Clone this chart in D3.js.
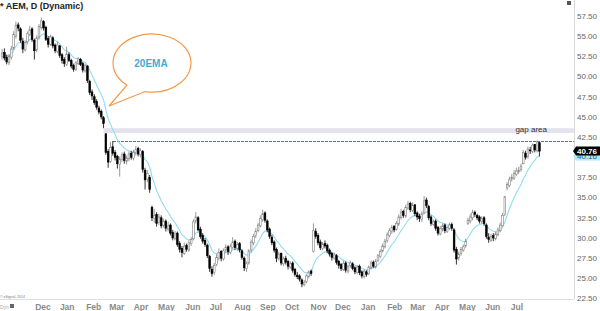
<!DOCTYPE html>
<html>
<head>
<meta charset="utf-8">
<script src="https://cdn.jsdelivr.net/npm/d3@7"></script>
<style>
  body { margin: 0; background: #fff; }
  svg { display: block; font-family: Arial, "Liberation Sans", sans-serif; }
</style>
</head>
<body>
<div id="chart"></div>
<script>
// AEM daily, shown as 2-session candles (one bar = 2 trading days), Oct 12 2012 .. Jul 28 2014
var opens = [
  52.5, 53.0, 52.4, 51.7, 52.4, 53.5, 55.0,                         // Oct 12
  56.4, 55.9, 54.4, 53.3, 54.3, 55.2, 55.9, 54.5, 53.3, 54.9, 56.1, // Nov
  56.8, 56.1, 54.7, 54.0, 54.8, 53.9, 53.1, 53.8, 52.7, 52.1, 51.5, // Dec
  52.7, 52.0, 51.4, 50.9, 51.6, 52.1, 51.6, 50.7, 51.3, 49.4, 48.1, // Jan 13
  47.5, 46.9, 46.1, 45.7, 44.9, 42.9, 40.7, 39.5, 41.3, 40.6,       // Feb
  40.1, 39.1, 39.7, 40.4, 39.5, 39.8, 40.5, 39.9, 40.5, 41.1, 40.3, // Mar
  40.7, 38.4, 37.3, 37.5, 33.8, 32.4, 32.9, 31.9, 32.5, 31.6, 32.1, // Apr
  31.1, 31.6, 30.7, 29.9, 30.6, 29.3, 28.7, 28.1, 29.1, 28.5, 29.3, // May
  29.9, 32.1, 32.5, 31.1, 30.3, 29.7, 29.1, 27.7, 26.1, 25.7,       // Jun
  26.7, 27.5, 28.3, 27.4, 28.5, 28.9, 28.2, 28.8, 29.6, 28.7, 29.3, 28.4, // Jul
  27.5, 26.2, 26.9, 28.5, 29.4, 30.3, 30.9, 31.5, 32.3, 33.1, 32.1, // Aug
  31.1, 30.1, 29.5, 28.6, 27.4, 28.1, 26.8, 27.5, 27.1, 26.4,       // Sep
  26.9, 26.1, 25.4, 25.3, 24.8, 24.2, 24.6, 25.2, 25.9, 28.3, 30.8, 30.3, // Oct
  29.5, 28.7, 29.3, 29.1, 28.5, 28.1, 27.5, 27.8, 27.1, 26.7,       // Nov
  26.1, 26.9, 25.9, 26.6, 26.8, 26.3, 25.7, 26.5, 25.8, 25.2, 25.8, // Dec
  25.6, 26.3, 27.0, 26.4, 27.2, 27.7, 28.4, 28.9, 29.7, 30.3, 30.8, 31.4, // Jan 14
  31.1, 31.7, 32.5, 33.3, 32.7, 33.7, 34.3, 33.4, 34.1, 33.1,       // Feb
  32.7, 32.3, 33.1, 34.7, 33.9, 32.6, 31.7, 32.1, 31.3, 30.5,       // Mar
  31.1, 31.6, 30.8, 31.2, 31.7, 31.0, 28.6, 27.5, 28.1, 28.5, 29.0, // Apr
  31.8, 32.1, 32.5, 33.2, 32.8, 32.6, 32.0, 32.5, 31.6, 30.1, 29.7, // May
  30.3, 29.9, 30.4, 30.9, 31.5, 32.9, 36.2, 36.5, 37.3, 37.4, 37.9, // Jun
  38.2, 38.5, 39.2, 40.5, 40.1, 40.9, 40.7, 41.6, 40.8, 41.8        // Jul
];
var highs = [
  53.4, 53.5, 52.7, 52.8, 53.8, 55.6, 56.8,
  56.7, 56.1, 54.8, 54.5, 55.6, 56.3, 56.1, 54.7, 55.1, 56.5, 57.3,
  57.0, 56.3, 55.0, 55.2, 55.0, 54.1, 54.3, 53.9, 52.9, 52.4, 53.7,
  53.0, 52.2, 51.6, 51.9, 52.4, 52.3, 51.8, 51.6, 51.4, 49.6, 48.4,
  47.8, 47.2, 46.4, 45.9, 45.1, 43.0, 41.0, 41.9, 42.0, 40.9,
  40.3, 40.1, 40.6, 40.7, 40.2, 40.7, 40.8, 40.9, 41.4, 41.3, 41.1,
  40.9, 38.7, 38.4, 37.8, 34.0, 33.6, 33.2, 33.0, 32.8, 32.4, 32.3,
  32.0, 31.8, 31.0, 30.9, 30.8, 29.6, 29.0, 29.4, 29.3, 29.7, 30.1,
  32.3, 33.2, 32.7, 31.4, 30.6, 30.0, 29.3, 27.9, 26.5, 26.9,
  28.0, 28.7, 28.5, 28.7, 29.2, 29.1, 29.3, 30.1, 29.8, 29.5, 29.5, 28.6,
  27.7, 27.1, 28.6, 29.8, 30.5, 31.2, 31.9, 32.8, 33.5, 33.3, 32.3,
  31.3, 30.4, 29.7, 28.8, 28.3, 28.2, 27.7, 27.8, 27.3, 27.1,
  27.1, 26.3, 25.8, 25.5, 25.0, 24.8, 25.5, 26.0, 26.1, 31.8, 31.2, 30.6,
  29.8, 29.5, 29.7, 29.3, 28.7, 28.3, 28.2, 28.0, 27.3, 26.9,
  27.2, 27.1, 26.7, 27.2, 27.0, 26.5, 26.6, 26.7, 26.0, 26.1, 26.0,
  26.6, 27.2, 27.2, 27.4, 28.0, 28.6, 29.3, 29.9, 30.7, 31.2, 31.6, 31.6,
  32.1, 32.9, 33.6, 33.5, 34.1, 34.6, 34.5, 34.4, 34.2, 33.3,
  33.0, 33.3, 35.2, 35.0, 34.1, 32.8, 32.3, 32.3, 31.5, 31.5,
  31.8, 31.8, 31.5, 31.9, 31.9, 31.2, 28.9, 28.3, 28.9, 29.2, 29.9,
  32.5, 33.0, 33.5, 33.4, 33.0, 32.8, 32.7, 32.7, 31.8, 30.6, 30.5,
  30.6, 30.8, 31.3, 31.9, 33.1, 35.2, 36.9, 37.6, 37.9, 38.4, 38.7,
  38.8, 39.2, 40.9, 40.8, 41.3, 41.3, 41.7, 41.6, 42.1, 41.9
];
var lows = [
  52.1, 52.0, 51.5, 51.4, 52.1, 53.3, 54.7,
  55.6, 54.2, 52.9, 53.1, 54.0, 55.0, 54.3, 52.1, 53.0, 54.6, 55.8,
  55.7, 54.4, 53.6, 53.8, 53.5, 52.9, 52.9, 52.3, 51.6, 51.2, 51.3,
  51.8, 51.0, 50.6, 50.7, 51.4, 51.3, 50.5, 50.5, 49.2, 47.7, 47.1,
  46.5, 45.9, 45.3, 44.7, 43.6, 40.3, 38.7, 39.3, 40.2, 39.6,
  38.6, 37.6, 39.4, 39.2, 39.1, 39.5, 39.7, 39.6, 40.2, 40.1, 40.0,
  38.1, 36.0, 36.9, 35.6, 32.1, 31.9, 31.4, 31.6, 31.2, 31.3, 30.8,
  30.8, 30.3, 29.7, 29.7, 28.9, 28.2, 27.6, 27.9, 28.3, 28.3, 29.0,
  29.7, 31.8, 30.8, 29.9, 29.3, 28.9, 27.5, 25.8, 25.2, 25.4,
  26.5, 27.2, 27.1, 27.2, 28.2, 27.9, 28.0, 28.6, 28.5, 28.4, 28.2, 27.3,
  25.9, 25.8, 26.7, 28.2, 29.1, 30.0, 30.7, 31.3, 32.0, 31.9, 30.7,
  29.9, 29.1, 28.2, 27.0, 27.2, 26.6, 26.5, 26.7, 26.1, 26.2,
  25.7, 25.2, 24.9, 24.6, 23.9, 24.0, 24.4, 25.0, 25.3, 28.2, 29.9, 29.1,
  28.5, 28.5, 28.7, 28.1, 27.7, 27.2, 27.3, 26.7, 26.2, 25.9,
  25.9, 25.7, 25.6, 26.3, 26.0, 25.5, 25.5, 25.4, 25.0, 25.0, 25.2,
  25.4, 26.1, 26.3, 26.2, 27.0, 27.5, 28.2, 28.7, 29.4, 30.1, 30.5, 30.7,
  30.9, 31.5, 32.3, 32.5, 32.5, 33.5, 33.2, 33.2, 32.7, 32.2,
  32.0, 32.0, 33.0, 33.7, 32.2, 31.5, 31.5, 30.9, 30.3, 30.3,
  30.8, 30.6, 30.6, 31.0, 30.9, 28.2, 26.7, 27.2, 27.8, 28.3, 28.8,
  31.6, 31.8, 32.2, 32.6, 32.2, 31.8, 31.8, 31.5, 29.9, 29.4, 29.5,
  29.6, 29.7, 30.2, 30.7, 31.4, 32.7, 35.9, 36.3, 37.0, 37.2, 37.7,
  37.9, 38.2, 39.1, 39.7, 39.8, 40.4, 40.5, 40.6, 40.6, 40.1
];
var closes = [
  52.9, 52.3, 51.8, 52.5, 53.4, 55.2, 56.3,
  56.0, 54.5, 53.4, 54.2, 55.3, 55.8, 54.6, 53.2, 54.8, 56.2, 56.9,
  56.0, 54.6, 54.0, 54.9, 53.8, 53.2, 53.9, 52.6, 52.0, 51.6, 52.8,
  52.0, 51.3, 50.9, 51.7, 52.2, 51.5, 50.8, 51.4, 49.5, 48.0, 47.6,
  46.8, 46.2, 45.6, 45.0, 44.2, 40.6, 39.4, 41.2, 40.5, 40.0,
  39.2, 39.8, 40.3, 39.6, 39.9, 40.4, 40.0, 40.6, 41.0, 40.4, 40.8,
  38.5, 37.2, 38.0, 36.0, 32.5, 32.8, 31.8, 32.6, 31.5, 32.0, 31.2,
  31.5, 30.6, 30.0, 30.5, 29.2, 28.6, 28.2, 29.0, 28.6, 29.4, 29.8,
  32.0, 32.6, 31.0, 30.2, 29.6, 29.2, 27.8, 26.2, 25.6, 26.6,
  27.6, 28.2, 27.5, 28.4, 28.8, 28.3, 28.9, 29.5, 28.8, 29.2, 28.5, 27.6,
  26.3, 26.8, 28.4, 29.5, 30.2, 30.8, 31.6, 32.4, 33.0, 32.2, 31.0,
  30.2, 29.4, 28.5, 27.5, 28.0, 26.9, 27.4, 27.0, 26.5, 26.8,
  26.0, 25.5, 25.2, 24.9, 24.3, 24.5, 25.3, 25.8, 25.6, 30.9, 30.2, 29.4,
  28.8, 29.2, 29.0, 28.4, 28.0, 27.6, 27.9, 27.0, 26.6, 26.2,
  26.8, 26.0, 26.5, 26.9, 26.2, 25.8, 26.4, 25.7, 25.3, 25.9, 25.5,
  26.4, 26.9, 26.5, 27.1, 27.8, 28.3, 29.0, 29.6, 30.4, 30.9, 31.3, 31.0,
  31.8, 32.6, 33.2, 32.8, 33.8, 34.2, 33.5, 34.0, 33.0, 32.6,
  32.4, 33.0, 34.6, 34.0, 32.5, 31.8, 32.0, 31.2, 30.6, 31.2,
  31.5, 30.9, 31.3, 31.6, 31.2, 28.5, 27.4, 28.0, 28.6, 28.9, 29.6,
  32.2, 32.6, 33.1, 32.9, 32.5, 32.1, 32.4, 31.8, 30.2, 29.8, 30.2,
  30.0, 30.5, 31.0, 31.6, 32.8, 35.1, 36.6, 37.2, 37.5, 38.0, 38.3,
  38.4, 38.9, 40.6, 40.0, 41.0, 40.8, 41.5, 40.9, 41.9, 40.76
];
var yTicks = [22.5, 25, 27.5, 30, 32.5, 35, 37.5, 40, 42.5, 45, 47.5, 50, 52.5, 55, 57.5];
var title = "* AEM, D (Dynamic)";
var gapBar = 44;     // last bar before the February gap
var lineBar = 48;    // bar whose high gives the dashed level
var emaDays = 20;

var W = 600, H = 311;
var plotRight = 574, plotBottom = 299;
var nDays = 467;

// trading calendar (weekdays) from the first session
var days = [];
var d = new Date(2012, 9, 12);
while (days.length < nDays) {
  if (d.getDay() !== 0 && d.getDay() !== 6) days.push(new Date(d));
  d.setDate(d.getDate() + 1);
}

var x = d3.scaleLinear().domain([0, nDays]).range([1.5, 540]);
var y = d3.scaleLinear().domain([22.5, 57.5]).range([298.5, 16]);
function barX(i) { return x(2 * i + 0.5); }

// EMA: 20 sessions = 10 two-session bars
var k = 2 / (emaDays / 2 + 1), ema = [];
closes.forEach(function(c, i) { ema.push(i === 0 ? c : ema[i - 1] + k * (c - ema[i - 1])); });

var svg = d3.select("#chart").append("svg").attr("width", W).attr("height", H);
var plot = svg.append("g");

// gap area band
var gapTop = lows[gapBar], gapBottom = highs[gapBar + 1];
plot.append("rect")
    .attr("x", barX(gapBar)).attr("width", plotRight - barX(gapBar))
    .attr("y", y(gapTop)).attr("height", y(gapBottom) - y(gapTop))
    .style("fill", "#e4e2ec");
plot.append("text")
    .attr("x", 547).attr("y", y(gapBottom) - 1)
    .attr("text-anchor", "end")
    .style("font-size", "8px").style("fill", "#333")
    .text("gap area");

// dashed level
var ly = Math.round(y(highs[lineBar])) + 0.5;
plot.append("line")
    .attr("x1", barX(lineBar)).attr("x2", plotRight)
    .attr("y1", ly).attr("y2", ly)
    .style("stroke", "#5a5aff").style("stroke-width", 1).style("stroke-dasharray", "3,1")
    .style("shape-rendering", "crispEdges");

// EMA line
plot.append("path")
    .datum(ema)
    .attr("d", d3.line().x(function(v, i) { return barX(i); }).y(function(v) { return y(v); }))
    .style("fill", "none").style("stroke", "#93daf3").style("stroke-width", 1.1);

// candles
var idx = d3.range(closes.length);
var bw = 1.7;
plot.selectAll(".wick").data(idx).enter().append("line")
    .attr("class", "wick")
    .attr("x1", barX).attr("x2", barX)
    .attr("y1", function(i) { return y(highs[i]); })
    .attr("y2", function(i) { return y(lows[i]); })
    .style("stroke", function(i) { return closes[i] >= opens[i] ? "#808080" : "#000"; })
    .style("stroke-width", 0.8);
plot.selectAll(".body").data(idx).enter().append("rect")
    .attr("class", "body")
    .attr("x", function(i) { return barX(i) - bw / 2; })
    .attr("width", bw)
    .attr("y", function(i) { return y(Math.max(opens[i], closes[i])); })
    .attr("height", function(i) { return Math.max(0.8, Math.abs(y(opens[i]) - y(closes[i]))); })
    .style("fill", function(i) { return closes[i] >= opens[i] ? "#fff" : "#000"; })
    .style("stroke", function(i) { return closes[i] >= opens[i] ? "#808080" : "#000"; })
    .style("stroke-width", 0.6);

// callout bubble
var cx = 152, cy = 63, rx = 39, ry = 29;
function ep(t) { t = t * Math.PI / 180; return [cx + rx * Math.cos(t), cy + ry * Math.sin(t)]; }
var A = ep(130), B = ep(100), tip = [109, 106];
svg.append("path")
    .attr("d", "M" + A + "L" + tip + "L" + B + "A" + rx + " " + ry + " 0 1 0 " + A + "Z")
    .style("fill", "#fff").style("stroke", "#f39a4a").style("stroke-width", 1.2);
svg.append("text")
    .attr("x", cx - 1).attr("y", cy + 4)
    .attr("text-anchor", "middle")
    .style("font-size", "10px").style("font-weight", "bold").style("fill", "#45a9d9")
    .text("20EMA");

// frame lines
svg.append("line").attr("x1", plotRight + 0.5).attr("x2", plotRight + 0.5).attr("y1", 0).attr("y2", plotBottom)
    .style("stroke", "#d8d8d8");
svg.append("line").attr("x1", 0).attr("x2", plotRight).attr("y1", plotBottom + 0.5).attr("y2", plotBottom + 0.5)
    .style("stroke", "#e0e0e0");

// y axis labels
svg.selectAll(".ytick").data(yTicks).enter().append("text")
    .attr("class", "ytick")
    .attr("x", 577).attr("y", function(v) { return y(v); })
    .attr("dy", "0.35em")
    .style("font-size", "8px").style("fill", "#666")
    .text(d3.format(".2f"));

// month labels at first session of each month
var months = [];
days.forEach(function(dt, i) {
  if (i > 0 && dt.getMonth() !== days[i - 1].getMonth() && x(i) > 30) months.push(i);
});
svg.selectAll(".xtick").data(months).enter().append("text")
    .attr("class", "xtick")
    .attr("x", function(i) { return x(i); }).attr("y", 310)
    .attr("text-anchor", "middle")
    .style("font-size", "8.5px").style("font-weight", "bold").style("fill", "#8a8a8a")
    .text(function(i) { return d3.timeFormat("%b")(days[i]); });

// title and small marks
svg.append("text").attr("x", 0).attr("y", 9)
    .style("font-size", "9px").style("font-weight", "bold").style("fill", "#222")
    .text(title);
svg.append("rect").attr("x", 567).attr("y", 1).attr("width", 4).attr("height", 4).style("fill", "#555");
svg.append("text").attr("x", 0).attr("y", 298)
    .style("font-size", "3.5px").style("fill", "#777").text("© eSignal, 2014");
svg.append("text").attr("x", 0).attr("y", 309)
    .style("font-size", "5px").style("fill", "#aaa").text("Dyn");
svg.append("rect").attr("x", 10).attr("y", 304).attr("width", 4).attr("height", 4).style("fill", "#666");

// last price and EMA value tags (EMA tag sits just under, partly covered)
var last = closes.length - 1;
function tag(v, yy, bg, fg, bold) {
  var g = svg.append("g");
  g.append("path")
      .attr("d", "M573," + yy + "L576," + (yy - 4.5) + "L600," + (yy - 4.5) + "L600," + (yy + 4.5) + "L576," + (yy + 4.5) + "Z")
      .style("fill", bg);
  g.append("text").attr("x", 577).attr("y", yy).attr("dy", "0.35em")
      .style("font-size", "8px").style("font-weight", bold ? "bold" : "normal").style("fill", fg)
      .text(d3.format(".2f")(v));
}
tag(ema[last], Math.max(y(ema[last]), y(closes[last]) + 5), "#b3ebf9", "#2a5a80", false);
tag(closes[last], y(closes[last]), "#000", "#fff", true);
</script>
</body>
</html>
